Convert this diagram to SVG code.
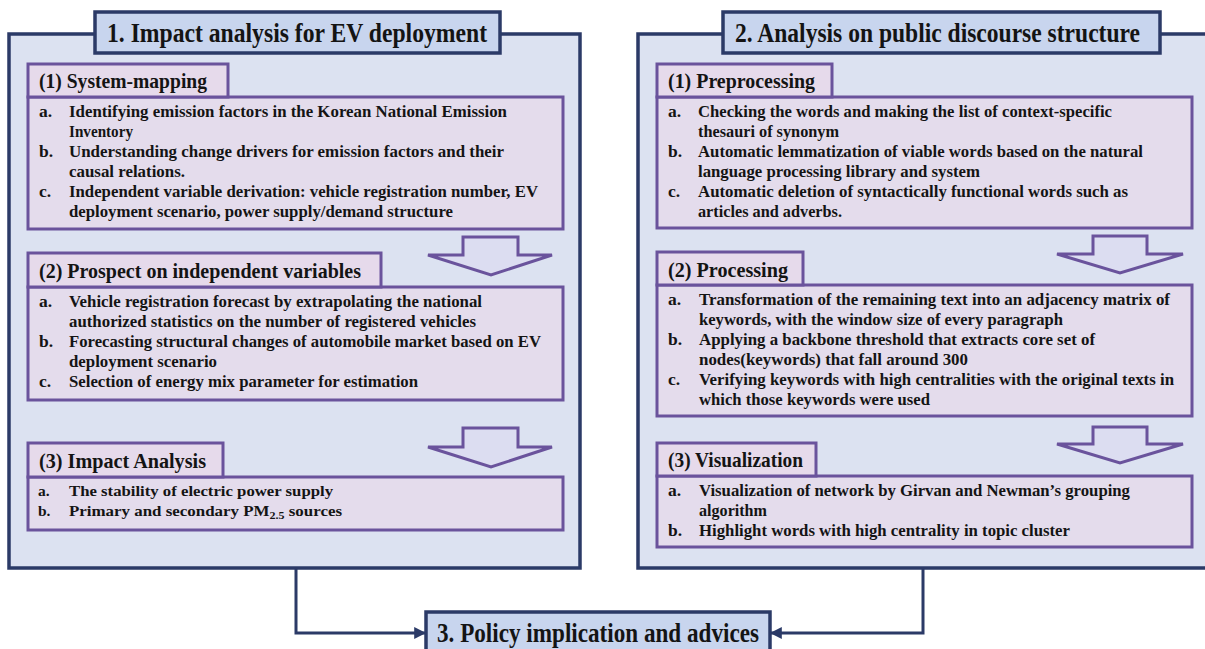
<svg xmlns="http://www.w3.org/2000/svg" width="1205" height="649" viewBox="0 0 1205 649">
<defs>
<style>
.panel{fill:#DCE2F1;stroke:#2B3A67;stroke-width:3.5}
.title{fill:#C8D5EE;stroke:#2B3A67;stroke-width:3.5}
.hdr{fill:#E6DAEB;stroke:#6A539C;stroke-width:3}
.cnt{fill:#E4DCEC;stroke:#6A539C;stroke-width:3}
.barrow{fill:#DCDDF1;stroke:#6A539C;stroke-width:3;stroke-linejoin:miter}
.conn{fill:none;stroke:#2B3A67;stroke-width:3}
text{font-family:"Liberation Serif","Times New Roman",serif;font-weight:bold;fill:#141414}
.tt{font-size:27px}
.ht{font-size:22px}
.it{font-size:17.5px}
.is{font-size:15.5px}
</style>
<marker id="ah" viewBox="0 0 10 10" refX="9" refY="5" markerWidth="4" markerHeight="4" orient="auto" markerUnits="strokeWidth">
<path d="M0,0 L10,5 L0,10 Z" fill="#2B3A67"/>
</marker>
</defs>
<rect width="1205" height="649" fill="#FFFFFF"/>

<g id="panel-impact">
<rect class="panel" x="9" y="34" width="571" height="534"/>
<rect class="title" x="95" y="12" width="405" height="41"/>
<text class="tt" x="107" y="42" textLength="380" lengthAdjust="spacingAndGlyphs">1. Impact analysis for EV deployment</text>
</g>

<g id="panel-discourse">
<rect class="panel" x="638" y="34" width="580" height="534"/>
<rect class="title" x="723" y="12" width="437" height="41"/>
<text class="tt" x="735" y="42" textLength="405" lengthAdjust="spacingAndGlyphs">2. Analysis on public discourse structure</text>
</g>

<g id="connectors">
<polygon class="barrow" points="463,237 518,237 518,255 552,255 491,275 428,255 463,255"/>
<polygon class="barrow" points="463,428 518,428 518,447 552,447 491,467 428,447 463,447"/>
<polygon class="barrow" points="1093,236 1147,236 1147,254 1183,254 1120,273 1057,254 1093,254"/>
<polygon class="barrow" points="1093,427 1147,427 1147,444 1183,444 1120,463 1057,444 1093,444"/>
<path class="conn" d="M296,569 V633 H425" marker-end="url(#ah)"/>
<path class="conn" d="M923,569 V633 H771" marker-end="url(#ah)"/>
</g>

<g id="system-mapping">
<rect class="cnt" x="28" y="97" width="535" height="132"/>
<rect class="hdr" x="28" y="64" width="200" height="33"/>
<text class="ht" x="39" y="88" textLength="168" lengthAdjust="spacingAndGlyphs">(1) System-mapping</text>
<text class="it" x="39" y="117">a.</text>
<text class="it" x="69" y="117" textLength="438" lengthAdjust="spacingAndGlyphs">Identifying emission factors in the Korean National Emission</text>
<text class="it" x="69" y="137" textLength="64" lengthAdjust="spacingAndGlyphs">Inventory</text>
<text class="it" x="39" y="157">b.</text>
<text class="it" x="69" y="157" textLength="435" lengthAdjust="spacingAndGlyphs">Understanding change drivers for emission factors and their</text>
<text class="it" x="69" y="177" textLength="116" lengthAdjust="spacingAndGlyphs">causal relations.</text>
<text class="it" x="39" y="197">c.</text>
<text class="it" x="69" y="197" textLength="469" lengthAdjust="spacingAndGlyphs">Independent variable derivation: vehicle registration number, EV</text>
<text class="it" x="69" y="217" textLength="384" lengthAdjust="spacingAndGlyphs">deployment scenario, power supply/demand structure</text>
</g>

<g id="prospect">
<rect class="cnt" x="28" y="287" width="535" height="113"/>
<rect class="hdr" x="28" y="253" width="353" height="34"/>
<text class="ht" x="39" y="278" textLength="322" lengthAdjust="spacingAndGlyphs">(2) Prospect on independent variables</text>
<text class="it" x="39" y="307">a.</text>
<text class="it" x="69" y="307" textLength="413" lengthAdjust="spacingAndGlyphs">Vehicle registration forecast by extrapolating the national</text>
<text class="it" x="69" y="327" textLength="407" lengthAdjust="spacingAndGlyphs">authorized statistics on the number of registered vehicles</text>
<text class="it" x="39" y="347">b.</text>
<text class="it" x="69" y="347" textLength="472" lengthAdjust="spacingAndGlyphs">Forecasting structural changes of automobile market based on EV</text>
<text class="it" x="69" y="367" textLength="148" lengthAdjust="spacingAndGlyphs">deployment scenario</text>
<text class="it" x="39" y="387">c.</text>
<text class="it" x="69" y="387" textLength="349" lengthAdjust="spacingAndGlyphs">Selection of energy mix parameter for estimation</text>
</g>

<g id="impact-analysis">
<rect class="cnt" x="28" y="477" width="535" height="53"/>
<rect class="hdr" x="28" y="443" width="195" height="34"/>
<text class="ht" x="39" y="468" textLength="167" lengthAdjust="spacingAndGlyphs">(3) Impact Analysis</text>
<text class="is" x="38" y="496">a.</text>
<text class="is" x="69" y="496" textLength="264" lengthAdjust="spacingAndGlyphs">The stability of electric power supply</text>
<text class="is" x="38" y="516">b.</text>
<text class="is" x="69" y="516" textLength="273" lengthAdjust="spacingAndGlyphs">Primary and secondary PM<tspan font-size="11" dy="3">2.5</tspan><tspan dy="-3"> sources</tspan></text>
</g>

<g id="preprocessing">
<rect class="cnt" x="657" y="97" width="535" height="131"/>
<rect class="hdr" x="657" y="64" width="175" height="33"/>
<text class="ht" x="668" y="88" textLength="147" lengthAdjust="spacingAndGlyphs">(1) Preprocessing</text>
<text class="it" x="668" y="117">a.</text>
<text class="it" x="698" y="117" textLength="414" lengthAdjust="spacingAndGlyphs">Checking the words and making the list of context-specific</text>
<text class="it" x="698" y="137" textLength="141" lengthAdjust="spacingAndGlyphs">thesauri of synonym</text>
<text class="it" x="668" y="157">b.</text>
<text class="it" x="698" y="157" textLength="445" lengthAdjust="spacingAndGlyphs">Automatic lemmatization of viable words based on the natural</text>
<text class="it" x="698" y="177" textLength="282" lengthAdjust="spacingAndGlyphs">language processing library and system</text>
<text class="it" x="668" y="197">c.</text>
<text class="it" x="698" y="197" textLength="430" lengthAdjust="spacingAndGlyphs">Automatic deletion of syntactically functional words such as</text>
<text class="it" x="698" y="217" textLength="144" lengthAdjust="spacingAndGlyphs">articles and adverbs.</text>
</g>

<g id="processing">
<rect class="cnt" x="657" y="285" width="535" height="131"/>
<rect class="hdr" x="657" y="252" width="146" height="33"/>
<text class="ht" x="668" y="277" textLength="120" lengthAdjust="spacingAndGlyphs">(2) Processing</text>
<text class="it" x="668" y="305">a.</text>
<text class="it" x="699" y="305" textLength="471" lengthAdjust="spacingAndGlyphs">Transformation of the remaining text into an adjacency matrix of</text>
<text class="it" x="699" y="325" textLength="364" lengthAdjust="spacingAndGlyphs">keywords, with the window size of every paragraph</text>
<text class="it" x="668" y="345">b.</text>
<text class="it" x="699" y="345" textLength="396" lengthAdjust="spacingAndGlyphs">Applying a backbone threshold that extracts core set of</text>
<text class="it" x="699" y="365" textLength="269" lengthAdjust="spacingAndGlyphs">nodes(keywords) that fall around 300</text>
<text class="it" x="668" y="385">c.</text>
<text class="it" x="699" y="385" textLength="475" lengthAdjust="spacingAndGlyphs">Verifying keywords with high centralities with the original texts in</text>
<text class="it" x="699" y="405" textLength="231" lengthAdjust="spacingAndGlyphs">which those keywords were used</text>
</g>

<g id="visualization">
<rect class="cnt" x="657" y="476" width="535" height="71"/>
<rect class="hdr" x="657" y="443" width="159" height="33"/>
<text class="ht" x="668" y="467" textLength="135" lengthAdjust="spacingAndGlyphs">(3) Visualization</text>
<text class="it" x="668" y="496">a.</text>
<text class="it" x="699" y="496" textLength="431" lengthAdjust="spacingAndGlyphs">Visualization of network by Girvan and Newman’s grouping</text>
<text class="it" x="699" y="516" textLength="68" lengthAdjust="spacingAndGlyphs">algorithm</text>
<text class="it" x="668" y="536">b.</text>
<text class="it" x="699" y="536" textLength="371" lengthAdjust="spacingAndGlyphs">Highlight words with high centrality in topic cluster</text>
</g>

<g id="policy">
<rect class="title" x="426" y="612" width="344" height="42"/>
<text class="tt" x="437" y="642" textLength="322" lengthAdjust="spacingAndGlyphs">3. Policy implication and advices</text>
</g>
</svg>
